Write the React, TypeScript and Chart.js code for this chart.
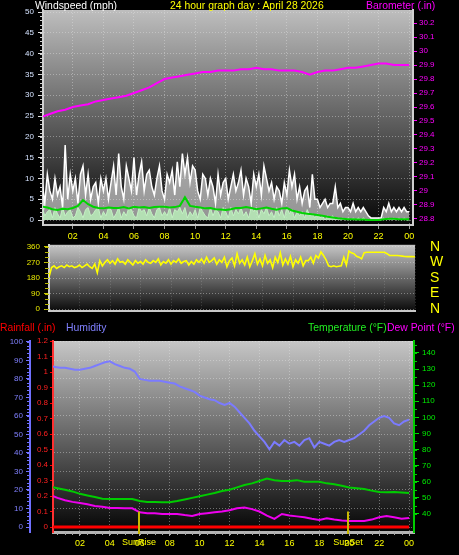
import React, { useEffect, useRef } from "react";
import { Chart, registerables } from "chart.js";

Chart.register(...registerables);

const FONT = "'Liberation Sans', Arial, sans-serif";

// ---------- Windspeed panel (mph), 10-minute samples ----------
const WIND_STEP = 1 / 6;
const WIND_GUST = [
  9, 4, 11, 7, 5, 10,
  6, 8, 3, 18, 5, 11,
  7, 10, 4, 11, 13, 6,
  11, 5, 8, 9, 4, 10,
  7, 10, 5, 9, 13, 6,
  16, 8, 5, 13, 10, 7,
  15, 6, 11, 14, 7, 11,
  12, 8, 6, 10, 13, 7,
  5, 11, 9, 12, 6, 14,
  8, 16, 11, 15, 9, 13,
  12, 7, 5, 11, 10, 6,
  10, 8, 4, 11, 6, 9,
  10, 5, 8, 11, 7, 9,
  12, 6, 10, 8, 4, 11,
  8, 11, 6, 13, 10, 7,
  9, 5, 8, 7, 4, 9,
  6, 12, 8, 11, 5, 8,
  4, 7, 8, 3, 11, 5,
  5, 3, 4, 5, 3, 4,
  4, 8, 3, 4, 2, 3,
  3, 2, 4, 2, 3, 2,
  3, 2, 1, 0.5, 0.5, 0.5,
  0.5, 0.5, 3, 2, 4, 2,
  3, 2, 3, 2, 3, 2,
  2,
];
const WIND_SPEED = [
  3, 1, 2, 2.5, 0.5, 3,
  1.5, 0.5, 3, 1, 2, 2.5,
  0.5, 1, 3, 2, 0.5, 2.5,
  3, 1, 1.5, 2.5, 3, 0.5,
  2, 1, 3, 2.5, 0.5, 1.5,
  3, 0.5, 2, 1, 3, 2.5,
  1, 0.5, 3, 2, 2.5, 1,
  3, 1.5, 0.5, 2.5, 3, 1,
  2, 1, 3, 0.5, 2.5, 2,
  3, 1.5, 3, 0.5, 2, 1,
  2.5, 0.5, 3, 2, 1, 0.5,
  3, 1, 2.5, 2, 0.5, 3,
  2, 0.5, 3, 1, 2.5, 1.5,
  3, 1, 2, 0.5, 3, 2,
  3, 0.5, 2.5, 1.5, 3, 1,
  2, 0.5, 3, 1, 2.5, 0.5,
  3, 1.5, 2.5, 0.5, 2, 1,
  2, 0.5, 2.5, 1, 1.5, 0.5,
  1.5, 0.5, 1, 0, 1, 0.5,
  1, 0, 0.5, 0, 0.5, 0,
  0.5, 0, 0.5, 0, 0.5, 0,
  0.5, 0, 0, 0, 0, 0,
  0, 0, 0.5, 0, 0.5, 0,
  0.5, 0, 0.5, 0, 0.5, 0,
  0,
];
const AVG_STEP = 1 / 3;
const WIND_AVG = [
  3.2, 3.0, 2.6, 2.4, 2.7, 2.6, 2.9, 3.4, 4.8, 3.8, 3.2, 2.9,
  2.8, 3.0, 2.9, 2.9, 3.1, 2.8, 3.2, 3.0, 3.1, 2.9, 3.1, 3.2,
  3.2, 3.0, 3.1, 3.4, 5.5, 3.4, 3.2, 3.0, 2.8, 2.9, 2.6, 2.5,
  2.4, 2.6, 2.9, 2.9, 3.1, 2.9, 2.6, 2.8, 3.0, 2.7, 2.5, 2.8,
  2.9, 2.3, 2.0, 1.7, 1.5, 1.4, 1.2, 1.0, 0.8, 0.6, 0.4, 0.3,
  0.2, 0.2, 0.1, 0.1, 0.0, 0.0, 0.0, 0.2, 0.3, 0.3, 0.2, 0.2,
  0.2,
];
// Barometer (in), 30-minute samples
const BARO_STEP = 0.5;
const BAROMETER = [
  29.53, 29.55, 29.57, 29.58, 29.6, 29.61, 29.62, 29.64, 29.65, 29.66,
  29.67, 29.68, 29.7, 29.72, 29.74, 29.77, 29.8, 29.81, 29.82, 29.83,
  29.84, 29.85, 29.85, 29.86, 29.86, 29.86, 29.87, 29.87, 29.88, 29.87,
  29.87, 29.86, 29.86, 29.86, 29.85, 29.83, 29.85, 29.86, 29.86, 29.87,
  29.88, 29.88, 29.89, 29.9, 29.91, 29.91, 29.9, 29.9, 29.9,
];

// ---------- Wind direction (deg), 10-minute samples ----------
const DIR_STEP = 1 / 6;
const WIND_DIR = [
  185, 240, 250, 235, 245, 250,
  240, 255, 245, 250, 240, 245,
  255, 240, 250, 260, 245, 235,
  260, 210, 280, 250, 270, 285,
  265, 280, 260, 290, 270, 275,
  260, 285, 270, 255, 280, 265,
  275, 260, 285, 270, 265, 280,
  270, 290, 255, 275, 265, 285,
  260, 280, 270, 290, 265, 275,
  280, 255, 275, 260, 285, 270,
  290, 265, 300, 270, 280, 295,
  260, 285, 270, 300, 245, 280,
  295, 250, 320, 265, 285, 255,
  300, 245, 280, 320, 260, 290,
  250, 310, 265, 285, 240, 300,
  270, 325, 255, 290, 260, 305,
  245, 285, 265, 300, 250, 280,
  280, 300, 265, 310, 295, 330,
  310, 285, 250, 245, 250, 245,
  248, 250, 300, 255, 335, 325,
  320, 305, 300, 290, 326, 328,
  328, 328, 328, 328, 328, 328,
  328, 320, 310, 310, 310, 310,
  308, 306, 304, 303, 303, 303,
  302,
];
const COMPASS_DEG = [360, 270, 180, 90, 0];
const COMPASS_TXT = ["N", "W", "S", "E", "N"];

// ---------- Rain / humidity / temperature panel ----------
const HUM_STEP = 1 / 3;
const HUMIDITY = [
  87, 86.5, 86, 86, 85.5, 85, 85, 85.5, 86, 87, 88, 89,
  89.5, 88, 87, 86, 85.5, 84, 80, 79.5, 79, 79, 79, 78.5,
  78, 77.5, 76, 75, 74, 73, 71, 70, 69, 68.5, 67, 66,
  67, 65, 62, 59, 56, 52, 49, 46, 42, 46, 44, 47,
  45, 46, 44, 47, 48, 43, 46, 45, 44, 46, 47, 46,
  47, 48, 50, 52, 55, 57, 59, 60, 59, 56, 55, 57,
  58,
];
const TD_STEP = 0.5;
const TEMPERATURE = [
  57, 56, 55, 54, 52.5, 51.5, 50.5, 49.5, 49.3, 49.3,
  49.3, 49.3, 48, 47.5, 47.5, 47.3, 47.3, 48, 49, 50,
  51, 52, 53, 54.3, 55, 56.5, 58, 59, 60.5, 62,
  61, 60.5, 60.5, 61, 60, 60, 60, 59, 58.5, 57.5,
  56.5, 56, 55.5, 54.5, 53.7, 53.5, 53.7, 53.3, 53,
];
const DEW_POINT = [
  51.8, 50, 48.5, 47.5, 46.8, 46, 45, 44.5, 43.7, 43.7,
  43.5, 43.5, 41, 40.5, 40.5, 40, 40, 40, 39.3, 38.8,
  40, 40.5, 41, 41.5, 42.3, 43.5, 44, 43, 41.5, 39,
  37, 40, 39, 38.5, 38, 37, 36.3, 37.3, 36.5, 36,
  35.7, 35.7, 35.7, 36.5, 38, 38.8, 38, 37, 37.5,
];
const RAIN_STEP = 1;
const RAINFALL = [
  0, 0, 0, 0, 0, 0, 0, 0, 0, 0, 0, 0, 0,
  0, 0, 0, 0, 0, 0, 0, 0, 0, 0, 0, 0,
];
const SUN_LABELS = ["SunRise", "SunSet"];
const SUN_HOURS = [5.95, 19.92];
const SUN_LINE_TOP = 0.1;

const TITLE = "24 hour graph day : April 28 2026";

// ---------- helpers ----------
const series = (vals: number[], step: number) => vals.map((v, i) => ({ x: i * step, y: v }));
const hourLabel = (v: any) => String(Math.round(Number(v)) % 24).padStart(2, "0");
const oneDec = (v: any) => String(Math.round(Number(v) * 10) / 10);
const tf = (size: number) => ({ family: FONT, size });
const GRID = "rgba(228,228,228,0.42)";

const bgPlugin = {
  id: "bgGradient",
  beforeDraw(chart: any, _a: any, opts: any) {
    const { ctx, chartArea: a } = chart;
    if (!a) return;
    const g = ctx.createLinearGradient(0, a.top, 0, a.bottom);
    g.addColorStop(0, opts.top);
    g.addColorStop(1, opts.bottom);
    ctx.save();
    ctx.fillStyle = g;
    ctx.fillRect(a.left, a.top, a.right - a.left, a.bottom - a.top);
    ctx.restore();
  },
};

const minorTicksPlugin = {
  id: "minorTicks",
  afterDraw(chart: any, _a: any, opts: any) {
    const ctx = chart.ctx;
    for (const it of opts.items || []) {
      const s = chart.scales[it.scale];
      if (!s) continue;
      const n = Math.round((it.to - it.from) / it.step);
      ctx.save();
      ctx.strokeStyle = it.color;
      ctx.lineWidth = 1;
      for (let i = 0; i <= n; i++) {
        const v = it.from + i * it.step;
        const p = Math.round(s.getPixelForValue(v)) + 0.5;
        ctx.beginPath();
        if (s.isHorizontal()) {
          ctx.moveTo(p, s.top);
          ctx.lineTo(p, s.top + it.len);
        } else if (s.position === "left") {
          ctx.moveTo(s.right - it.len, p);
          ctx.lineTo(s.right, p);
        } else {
          ctx.moveTo(s.left, p);
          ctx.lineTo(s.left + it.len, p);
        }
        ctx.stroke();
      }
      ctx.restore();
    }
  },
};

const compassPlugin = {
  id: "compass",
  afterDraw(chart: any) {
    const y = chart.scales.y;
    const ctx = chart.ctx;
    ctx.save();
    ctx.fillStyle = "#ffff00";
    ctx.font = `14px ${FONT}`;
    ctx.textAlign = "left";
    ctx.textBaseline = "middle";
    COMPASS_DEG.forEach((d, i) => {
      ctx.fillText(COMPASS_TXT[i], chart.chartArea.right + 15, y.getPixelForValue(d));
    });
    ctx.restore();
  },
};

const sunPlugin = {
  id: "sunLines",
  afterDraw(chart: any) {
    const x = chart.scales.x;
    const yr = chart.scales.yRain;
    const ctx = chart.ctx;
    SUN_HOURS.forEach((h, i) => {
      const px = Math.round(x.getPixelForValue(h));
      ctx.save();
      ctx.strokeStyle = "#c8b800";
      ctx.lineWidth = 2;
      ctx.beginPath();
      ctx.moveTo(px, yr.getPixelForValue(SUN_LINE_TOP));
      ctx.lineTo(px, chart.chartArea.bottom + 2);
      ctx.stroke();
      ctx.fillStyle = "#ffff00";
      ctx.font = `9px ${FONT}`;
      ctx.textAlign = "center";
      ctx.textBaseline = "middle";
      ctx.fillText(SUN_LABELS[i], px, x.top + 10.5);
      ctx.restore();
    });
  },
};

const baseOptions = {
  responsive: false,
  maintainAspectRatio: false,
  animation: false,
  events: [],
  elements: { point: { radius: 0 }, line: { tension: 0 } },
};

function windConfig(): any {
  return {
    type: "line",
    data: {
      datasets: [
        { label: "Barometer", data: series(BAROMETER, BARO_STEP), yAxisID: "yBaro", borderColor: "#ff00ff", borderWidth: 2, fill: false },
        { label: "Average", data: series(WIND_AVG, AVG_STEP), yAxisID: "y", borderColor: "#00d400", borderWidth: 2, fill: false },
        { label: "Speed", data: series(WIND_SPEED, WIND_STEP), yAxisID: "y", borderColor: "#c4f2c4", borderWidth: 1, backgroundColor: "rgba(185,236,185,0.85)", fill: "origin" },
        { label: "Gust", data: series(WIND_GUST, WIND_STEP), yAxisID: "y", borderColor: "#ffffff", borderWidth: 1.5, backgroundColor: "rgba(240,240,240,0.6)", fill: "origin" },
      ],
    },
    options: {
      ...baseOptions,
      layout: { padding: { top: 10, left: 0, right: 0, bottom: 0 } },
      plugins: {
        legend: { display: false },
        tooltip: { enabled: false },
        bgGradient: { top: "#bebebe", bottom: "#060606" },
        minorTicks: { items: [{ scale: "y", from: 0, to: 50, step: 1, len: 3, color: "#cfcfcf" }] },
      },
      scales: {
        x: {
          type: "linear", min: 0.05, max: 24.25,
          afterFit: (s: any) => { s.height = 20; },
          ticks: { stepSize: 2, includeBounds: false, autoSkip: false, maxRotation: 0, color: "#ffff00", font: tf(9), padding: 2, callback: hourLabel },
          grid: { color: GRID, tickColor: "#9a9a9a", tickLength: 4 },
          border: { color: "#c8c8c8", width: 2, dash: [1, 2] },
        },
        y: {
          position: "left", min: -1.2, max: 50.5,
          afterFit: (s: any) => { s.width = 43; },
          ticks: { stepSize: 5, includeBounds: false, color: "#d4e2ff", font: tf(8), padding: 4 },
          grid: { color: GRID, tickColor: "#e0e0e0", tickLength: 5 },
          border: { color: "#d0d0d0", width: 2, dash: [1, 2] },
        },
        yBaro: {
          position: "right", min: 28.757, max: 30.293,
          afterFit: (s: any) => { s.width = 46; },
          ticks: { stepSize: 0.1, includeBounds: false, color: "#ff00ff", font: tf(8), padding: 2, callback: oneDec },
          grid: { drawOnChartArea: false, tickColor: "#ff00ff", tickLength: 4 },
          border: { color: "#d0d0d0", width: 2 },
        },
      },
    },
    plugins: [bgPlugin, minorTicksPlugin],
  };
}

function dirConfig(): any {
  return {
    type: "line",
    data: {
      datasets: [
        { label: "Direction", data: series(WIND_DIR, DIR_STEP), yAxisID: "y", borderColor: "#ffff00", borderWidth: 1.6, fill: false },
      ],
    },
    options: {
      ...baseOptions,
      layout: { padding: { top: 8, left: 0, right: 44, bottom: 0 } },
      plugins: {
        legend: { display: false },
        tooltip: { enabled: false },
        bgGradient: { top: "#c6c6c6", bottom: "#0a0a0a" },
        minorTicks: { items: [{ scale: "y", from: 0, to: 360, step: 30, len: 4, color: "#b8b800" }] },
      },
      scales: {
        x: {
          type: "linear", min: 0, max: 24,
          afterFit: (s: any) => { s.height = 8; },
          ticks: { display: false, stepSize: 2 },
          grid: { color: "rgba(228,228,228,0.22)", drawTicks: false },
          border: { color: "#c8c8c8", width: 2, dash: [1, 2] },
        },
        y: {
          position: "left", min: -11.25, max: 371.25,
          afterFit: (s: any) => { s.width = 49; },
          ticks: { stepSize: 90, includeBounds: false, autoSkip: false, color: "#e8e800", font: tf(8), padding: 4 },
          grid: { color: GRID, tickColor: "#c8c800", tickLength: 5 },
          border: { color: "#d0d0d0", width: 2, dash: [1, 2] },
        },
      },
    },
    plugins: [bgPlugin, minorTicksPlugin, compassPlugin],
  };
}

function climateConfig(): any {
  return {
    type: "line",
    data: {
      datasets: [
        { label: "Rainfall", data: series(RAINFALL, RAIN_STEP), yAxisID: "yRain", borderColor: "#ff0000", borderWidth: 3, fill: false },
        { label: "Humidity", data: series(HUMIDITY, HUM_STEP), yAxisID: "yHum", borderColor: "#7b7bff", borderWidth: 2, fill: false },
        { label: "Dew Point", data: series(DEW_POINT, TD_STEP), yAxisID: "yTemp", borderColor: "#ee00ee", borderWidth: 2, fill: false },
        { label: "Temperature", data: series(TEMPERATURE, TD_STEP), yAxisID: "yTemp", borderColor: "#00cc00", borderWidth: 2, fill: false },
      ],
    },
    options: {
      ...baseOptions,
      layout: { padding: { top: 11, left: 0, right: 0, bottom: 0 } },
      plugins: {
        legend: { display: false },
        tooltip: { enabled: false },
        bgGradient: { top: "#c6c6c6", bottom: "#040404" },
        minorTicks: {
          items: [
            { scale: "yHum", from: 0, to: 100, step: 2, len: 3, color: "#7070ff" },
            { scale: "yTemp", from: 40, to: 145, step: 5, len: 3, color: "#00cc00" },
            { scale: "x", from: 0.5, to: 24, step: 0.5, len: 3, color: "#a8a8a8" },
          ],
        },
      },
      scales: {
        x: {
          type: "linear", min: 0.2, max: 24.33,
          afterFit: (s: any) => { s.height = 23; },
          ticks: { stepSize: 2, includeBounds: false, autoSkip: false, maxRotation: 0, color: "#ffff00", font: tf(9), padding: 2, callback: hourLabel },
          grid: { color: GRID, tickColor: "#a8a8a8", tickLength: 4 },
          border: { color: "#b4b4b4", width: 3, dash: [1, 2] },
        },
        yHum: {
          position: "left", weight: 1, min: -2.7, max: 100.5,
          afterFit: (s: any) => { s.width = 30; },
          ticks: { stepSize: 10, includeBounds: false, color: "#8080ff", font: tf(8), padding: 3 },
          grid: { color: GRID, tickColor: "#7070ff", tickLength: 4 },
          border: { color: "#7070ff", width: 2, dash: [1, 2] },
        },
        yRain: {
          position: "left", weight: 0, min: -0.032, max: 1.2,
          afterFit: (s: any) => { s.width = 23; },
          ticks: { stepSize: 0.1, includeBounds: false, color: "#ff2020", font: tf(8), padding: 2, callback: oneDec },
          grid: { drawOnChartArea: false, tickColor: "#ff0000", tickLength: 3 },
          border: { color: "#ff3030", width: 2 },
        },
        yTemp: {
          position: "right", min: 28.8, max: 147.4,
          afterFit: (s: any) => { s.width = 45; },
          afterBuildTicks: (s: any) => { s.ticks = s.ticks.filter((t: any) => t.value >= 40); },
          ticks: { stepSize: 10, includeBounds: false, color: "#00ee00", font: tf(8), padding: 3 },
          grid: { drawOnChartArea: false, tickColor: "#00dd00", tickLength: 5 },
          border: { color: "#00cc00", width: 2 },
        },
      },
    },
    plugins: [bgPlugin, minorTicksPlugin, sunPlugin],
  };
}

function Label(props: { text: string; left: number; top: number; color: string; size?: number }) {
  return (
    <div
      style={{
        position: "absolute",
        left: props.left,
        top: props.top,
        color: props.color,
        fontFamily: FONT,
        fontSize: props.size ?? 10.4,
        lineHeight: "12px",
        whiteSpace: "nowrap",
      }}
    >
      {props.text}
    </div>
  );
}

export default function App() {
  const c1 = useRef<HTMLCanvasElement>(null);
  const c2 = useRef<HTMLCanvasElement>(null);
  const c3 = useRef<HTMLCanvasElement>(null);

  useEffect(() => {
    const charts = [
      new Chart(c1.current as HTMLCanvasElement, windConfig()),
      new Chart(c2.current as HTMLCanvasElement, dirConfig()),
      new Chart(c3.current as HTMLCanvasElement, climateConfig()),
    ];
    return () => charts.forEach((c) => c.destroy());
  }, []);

  return (
    <div style={{ position: "absolute", left: 0, top: 0, width: 459, height: 555, background: "#000", overflow: "hidden" }}>
      <canvas ref={c1} width={459} height={245} style={{ position: "absolute", left: 0, top: 0 }} />
      <canvas ref={c2} width={459} height={84} style={{ position: "absolute", left: 0, top: 236 }} />
      <canvas ref={c3} width={459} height={225} style={{ position: "absolute", left: 0, top: 330 }} />
      <Label text="Windspeed (mph)" left={35} top={0} color="#ffffff" />
      <Label text={TITLE} left={170} top={0} color="#ffff00" />
      <Label text="Barometer (.in)" left={366} top={0} color="#ff00ff" />
      <Label text="Rainfall (.in)" left={0} top={322} color="#ff0000" />
      <Label text="Humidity" left={66} top={322} color="#8080ff" />
      <Label text="Temperature (°F)" left={308} top={322} color="#22ee22" />
      <Label text="Dew Point (°F)" left={387} top={322} color="#ff00ff" />
    </div>
  );
}
